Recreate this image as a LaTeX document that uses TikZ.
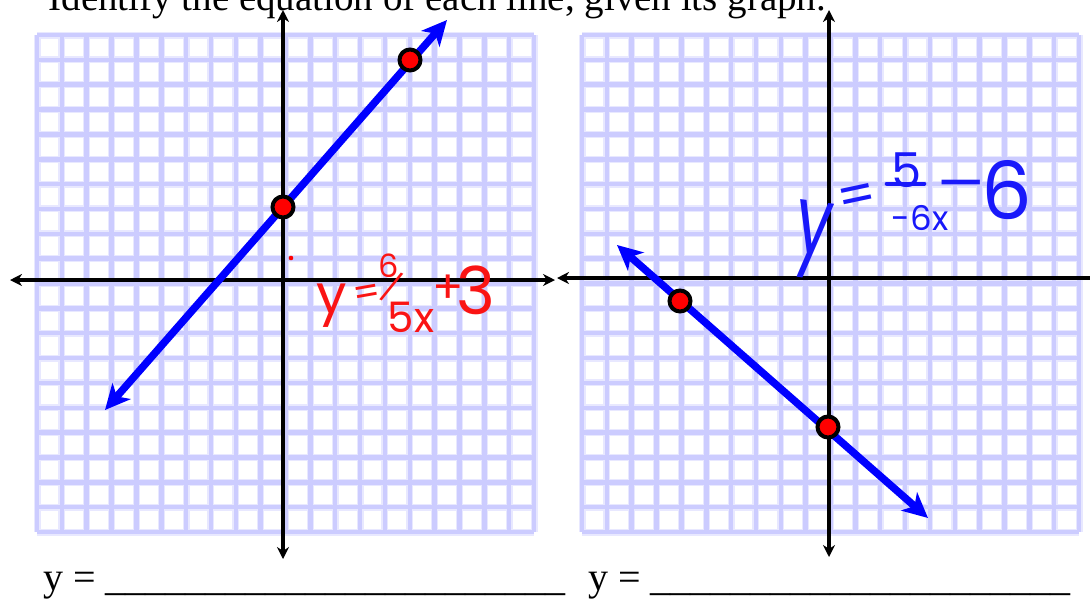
\documentclass[tikz,border=0pt]{standalone}
\usepackage{fontspec}
\setmainfont{Liberation Serif}
\newfontfamily\handfont{Poppins}
\usetikzlibrary{arrows.meta}
\definecolor{gridcore}{RGB}{204,204,255}
\definecolor{gridhalo}{RGB}{232,232,255}
\definecolor{inkred}{RGB}{250,20,20}
\definecolor{inkblue}{RGB}{25,25,250}
\tikzset{axtip/.tip={Stealth[length=12pt,width=12pt]},
 linetip/.tip={Stealth[length=25pt,width=24pt,inset=7pt]}}

\begin{document}
\begin{tikzpicture}[x=1pt,y=-1pt,
 halo/.style={draw=gridhalo,line width=7pt},
 core/.style={draw=gridcore,line width=4.5pt},
 ax/.style={draw=black,line width=3.5pt},
 graphline/.style={draw=blue,line width=7.5pt,linetip-linetip},
 pt/.style={circle,draw=black,fill=red,line width=4pt,minimum size=21pt,inner sep=0pt},
 big/.style={font=\fontsize{40}{48}\selectfont},
 redink/.style={text=inkred,inner sep=0pt},
 blueink/.style={text=inkblue,inner sep=0pt}]
\useasboundingbox (0,0) rectangle (1090,598);
\fill[white] (0,0) rectangle (1090,598);

% two grids, 20 by 20
\foreach \gx in {37,582} {
  \foreach \i in {0,...,20} {
    \draw[halo] ({\gx+\i*24.85},35) -- ({\gx+\i*24.85},532);
    \draw[halo] (\gx,{35+\i*24.85}) -- ({\gx+497},{35+\i*24.85});
  }
  \foreach \i in {0,...,20} {
    \draw[core] ({\gx+\i*24.85},35) -- ({\gx+\i*24.85},532);
    \draw[core] (\gx,{35+\i*24.85}) -- ({\gx+497},{35+\i*24.85});
  }
}

\node[font=\fontsize{39}{48}\selectfont,anchor=base west] (title) at (45,10) {Identify the equation of each line, given its graph.};

% axes
\coordinate (lxw) at (10,280);
\coordinate (lxe) at (555,280);
\coordinate (lyn) at (283,10);
\coordinate (lys) at (283,559);
\coordinate (rxw) at (557,278);
\coordinate (rxe) at (1090,278);
\coordinate (ryn) at (829,10);
\coordinate (rys) at (829,557);
\draw[ax,axtip-axtip] (lxw) -- (lxe);
\draw[ax,axtip-axtip] (lys) -- (lyn);
\draw[ax,axtip-] (rxw) -- (rxe);
\draw[ax,axtip-axtip] (rys) -- (ryn);

% handwritten answers
\node[redink,font=\handfont\fontsize{54}{54}\selectfont] (ry) at (332,306) {y};
\node[redink,font=\handfont\fontsize{38}{38}\selectfont,rotate=10] (req) at (367,296) {=};
\node[redink,font=\handfont\fontsize{32}{32}\selectfont] (rnum) at (389,266) {6};
\node[redink,font=\handfont\fontsize{30}{30}\selectfont,rotate=-25] (rsl) at (392,287) {/};
\node[redink,font=\handfont\fontsize{42}{42}\selectfont] (rden) at (411,317) {5x};
\node[redink,font=\handfont\fontsize{46}{46}\selectfont] (rplus) at (448,289) {+};
\node[redink,font=\handfont\fontsize{66}{66}\selectfont] (rthree) at (476,290) {3};
\fill[red] (291,258) circle (2.3);

\node[blueink,font=\handfont\fontsize{64}{64}\selectfont,rotate=-8] (by) at (812,240) {\scalebox{1}[1.5]{y}};
\node[blueink,font=\handfont\fontsize{54}{54}\selectfont,rotate=12] (beq) at (858,200) {=};
\node[blueink,font=\handfont\fontsize{48}{48}\selectfont] (bnum) at (907,170) {5};
\node[blueink,font=\handfont\fontsize{34}{34}\selectfont] (bden) at (920,218) {-6x};
\draw[inkblue,line width=4pt,line cap=round] ([xshift=-5pt,yshift=4pt]bnum.south west) -- ([xshift=2pt,yshift=4pt]bnum.south east);
\node[blueink,font=\handfont\fontsize{60}{60}\selectfont] (bmin) at (963,192) {\scalebox{1.6}[1]{-}};
\node[blueink,font=\handfont\fontsize{80}{80}\selectfont] (bsix) at (1007,190) {6};

% the two lines
\coordinate (a1) at (105,410);
\coordinate (a2) at (447,20);
\coordinate (b1) at (617,245);
\coordinate (b2) at (928,518);
\draw[graphline] (a1) -- (a2);
\draw[graphline] (b1) -- (b2);
\node[pt] (p1) at (283,207) {};
\node[pt] (p2) at (410,60) {};
\node[pt] (q1) at (680,301) {};
\node[pt] (q2) at (828,427) {};

% answer blanks
\node[big,anchor=base west,inner sep=0pt] (ans1) at (43,590) {y = \_\_\_\_\_\_\_\_\_\_\_\_\_\_\_\_\_\_\_\_\_\_\_};
\node[big,anchor=base west,inner sep=0pt] (ans2) at (588,590) {y = \_\_\_\_\_\_\_\_\_\_\_\_\_\_\_\_\_\_\_\_\_};
\end{tikzpicture}
\end{document}
